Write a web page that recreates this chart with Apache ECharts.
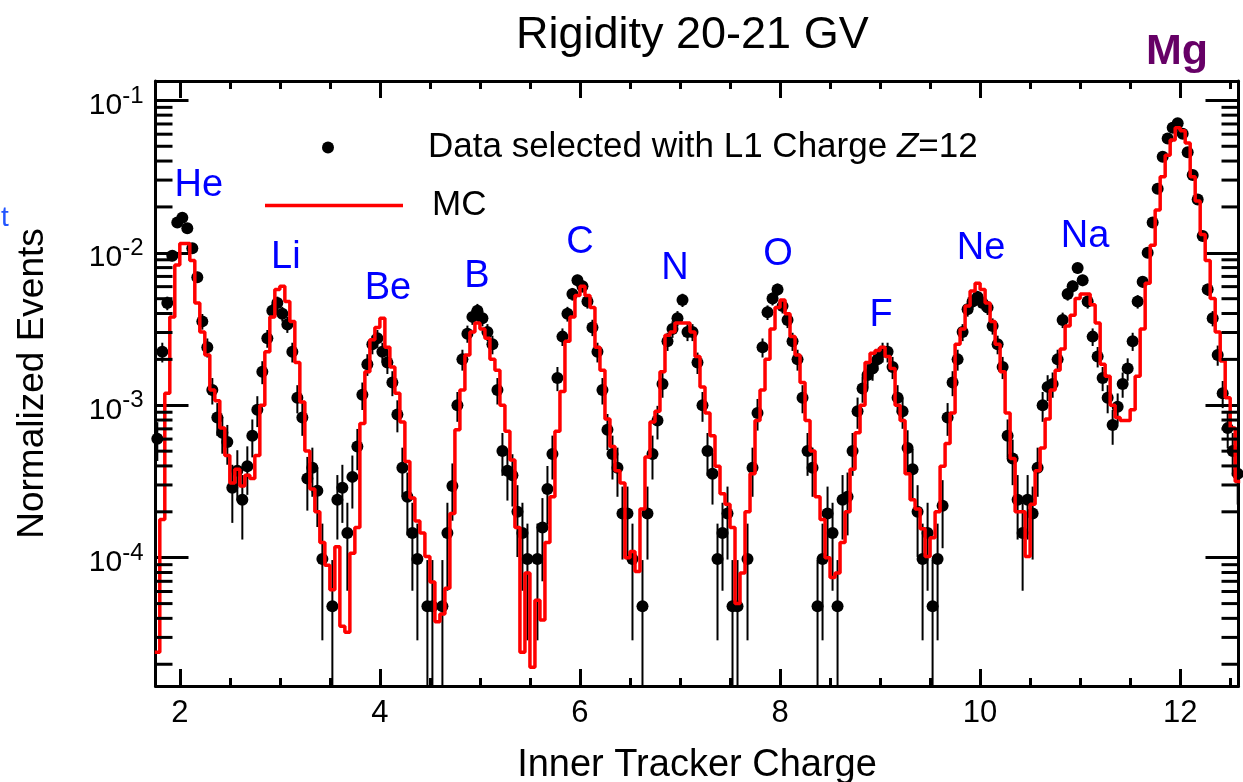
<!DOCTYPE html>
<html><head><meta charset="utf-8">
<script src="https://cdn.jsdelivr.net/npm/echarts@6/dist/echarts.min.js"></script>
<style>html,body{margin:0;padding:0;background:#fff}#c{width:1243px;height:782px}</style>
</head><body><div id="c"></div>
<script>
// ---- bin centres (Inner Tracker Charge) ----
const charge = [
1.775,1.825,1.875,1.925,1.975,
2.025,2.075,2.125,2.175,2.225,2.275,2.325,2.375,2.425,2.475,2.525,2.575,2.625,2.675,2.725,2.775,2.825,2.875,2.925,2.975,
3.025,3.075,3.125,3.175,3.225,3.275,3.325,3.375,3.425,3.475,3.525,3.575,3.625,3.675,3.725,3.775,3.825,3.875,3.925,3.975,
4.025,4.075,4.125,4.175,4.225,4.275,4.325,4.375,4.425,4.475,4.525,4.575,4.625,4.675,4.725,4.775,4.825,4.875,4.925,4.975,
5.025,5.075,5.125,5.175,5.225,5.275,5.325,5.375,5.425,5.475,5.525,5.575,5.625,5.675,5.725,5.775,5.825,5.875,5.925,5.975,
6.025,6.075,6.125,6.175,6.225,6.275,6.325,6.375,6.425,6.475,6.525,6.575,6.625,6.675,6.725,6.775,6.825,6.875,6.925,6.975,
7.025,7.075,7.125,7.175,7.225,7.275,7.325,7.375,7.425,7.475,7.525,7.575,7.625,7.675,7.725,7.775,7.825,7.875,7.925,7.975,
8.025,8.075,8.125,8.175,8.225,8.275,8.325,8.375,8.425,8.475,8.525,8.575,8.625,8.675,8.725,8.775,8.825,8.875,8.925,8.975,
9.025,9.075,9.125,9.175,9.225,9.275,9.325,9.375,9.425,9.475,9.525,9.575,9.625,9.675,9.725,9.775,9.825,9.875,9.925,9.975,
10.025,10.075,10.125,10.175,10.225,10.275,10.325,10.375,10.425,10.475,10.525,10.575,10.625,10.675,10.725,10.775,10.825,10.875,10.925,10.975,
11.025,11.075,11.125,11.175,11.225,11.275,11.325,11.375,11.425,11.475,11.525,11.575,11.625,11.675,11.725,11.775,11.825,11.875,11.925,11.975,
12.025,12.075,12.125,12.175,12.225,12.275,12.325,12.375,12.425,12.475,12.525,12.575
];

// ---- MC histogram (normalized events per bin) ----
const mcValues = [
2.40e-5,1.78e-4,1.20e-3,3.80e-3,8.32e-3,
1.15e-2,1.15e-2,8.91e-3,4.68e-3,3.02e-3, 2.14e-3,1.26e-3,1.07e-3,7.08e-4,4.68e-4,
3.09e-4,3.80e-4,2.95e-4,3.47e-4,3.31e-4, 4.68e-4,1.00e-3,2.24e-3,3.80e-3,5.75e-3,
6.03e-3,4.79e-3,3.55e-3,1.91e-3,1.05e-3, 5.01e-4,2.82e-4,2.00e-4,1.26e-4,8.91e-5,
6.17e-5,1.18e-4,3.55e-5,3.24e-5,1.07e-4, 1.58e-4,7.59e-4,1.66e-3,2.69e-3,3.24e-3,
3.72e-3,2.40e-3,1.78e-3,1.20e-3,7.76e-4, 4.27e-4,2.46e-4,1.74e-4,1.45e-4,1.02e-4,
6.92e-5,3.80e-5,4.27e-5,6.31e-5,1.95e-4, 6.92e-4,1.26e-3,2.14e-3,3.02e-3,3.47e-3,
3.16e-3,2.75e-3,2.00e-3,1.70e-3,1.00e-3, 6.76e-4,4.37e-4,1.58e-4,2.40e-5,7.94e-5,
1.91e-5,5.25e-5,3.90e-5,1.26e-4,2.51e-4, 6.76e-4,1.23e-3,2.63e-3,3.80e-3,5.25e-3,
6.03e-3,5.25e-3,4.37e-3,2.40e-3,1.70e-3, 8.13e-4,5.37e-4,3.72e-4,3.09e-4,1.00e-4,
1.10e-4,8.13e-5,2.09e-4,4.57e-4,7.76e-4, 9.12e-4,1.66e-3,2.88e-3,3.02e-3,3.47e-3,
3.47e-3,3.47e-3,3.02e-3,2.09e-3,1.32e-3, 8.91e-4,6.31e-4,3.98e-4,2.63e-4,2.24e-4,
1.58e-4,5.01e-5,7.94e-5,2.00e-4,3.55e-4, 7.94e-4,1.26e-3,2.00e-3,3.16e-3,4.37e-3,
4.90e-3,3.98e-3,2.82e-3,2.14e-3,1.41e-3, 7.94e-4,5.01e-4,2.51e-4,1.78e-4,1.00e-4,
7.41e-5,7.94e-5,1.26e-4,2.00e-4,3.80e-4, 6.61e-4,1.00e-3,1.91e-3,2.19e-3,2.29e-3,
2.40e-3,2.09e-3,1.74e-3,1.00e-3,7.94e-4, 3.55e-4,2.40e-4,2.09e-4,1.55e-4,1.02e-4,
1.35e-4,2.00e-4,3.98e-4,5.62e-4,8.91e-4, 2.51e-3,3.16e-3,4.47e-3,5.62e-3,6.31e-3,
5.75e-3,4.68e-3,3.55e-3,2.51e-3,1.66e-3, 8.91e-4,4.47e-4,2.00e-4,2.00e-4,1.02e-4,
2.24e-4,3.72e-4,5.25e-4,8.13e-4,1.26e-3, 1.70e-3,2.34e-3,3.31e-3,3.89e-3,5.01e-3,
5.37e-3,5.37e-3,4.57e-3,3.47e-3,1.86e-3, 1.55e-3,1.00e-3,8.32e-4,7.94e-4,7.94e-4,
9.33e-4,1.55e-3,3.16e-3,6.31e-3,1.12e-2, 1.91e-2,3.16e-2,4.37e-2,5.50e-2,6.61e-2,
6.31e-2,5.25e-2,3.16e-2,2.19e-2,1.32e-2, 8.91e-3,5.01e-3,3.02e-3,1.95e-3,1.12e-3,
7.08e-4,3.16e-4
];

// ---- Data selected with L1 charge Z=12 (null = empty bin) ----
const dataValues = [
6.03e-4,2.24e-3,4.68e-3,9.55e-3,1.58e-2,
1.70e-2,1.45e-2,1.07e-2,6.92e-3,3.55e-3, 2.40e-3,1.26e-3,8.32e-4,6.61e-4,5.75e-4,
2.88e-4,3.72e-4,2.40e-4,3.98e-4,6.31e-4, 9.33e-4,1.66e-3,2.75e-3,4.17e-3,4.68e-3,
3.98e-3,3.39e-3,2.24e-3,1.12e-3,8.32e-4, 3.31e-4,3.89e-4,2.75e-4,9.8e-5,null,
4.8e-5,2.40e-4,2.88e-4,1.45e-4,3.39e-4, 5.37e-4,1.17e-3,1.86e-3,2.51e-3,2.75e-3,
2.24e-3,1.91e-3,1.41e-3,8.71e-4,3.89e-4, 2.51e-4,1.45e-4,9.8e-5,null,4.8e-5,
4.8e-5,null,4.8e-5,1.45e-4,2.95e-4, 1.00e-3,2.00e-3,2.95e-3,3.80e-3,4.17e-3,
3.72e-3,3.02e-3,2.51e-3,1.26e-3,5.01e-4, 3.72e-4,3.47e-4,2.00e-4,1.45e-4,9.8e-5,
null,9.8e-5,1.58e-4,2.82e-4,4.79e-4, 1.51e-3,2.82e-3,3.98e-3,5.37e-3,6.61e-3,
6.03e-3,4.79e-3,3.24e-3,2.24e-3,1.26e-3, 6.92e-4,4.79e-4,3.89e-4,1.95e-4,1.95e-4,
9.8e-5,null,4.8e-5,1.95e-4,4.79e-4, 7.94e-4,1.38e-3,2.63e-3,3.16e-3,3.72e-3,
4.90e-3,3.02e-3,3.02e-3,1.91e-3,1.00e-3, 5.01e-4,3.55e-4,9.8e-5,1.45e-4,1.95e-4,
4.8e-5,4.8e-5,null,9.8e-5,3.89e-4, 8.91e-4,2.40e-3,4.07e-3,5.01e-3,5.75e-3,
4.47e-3,3.63e-3,2.63e-3,2.00e-3,1.12e-3, 5.01e-4,3.89e-4,4.8e-5,9.8e-5,1.95e-4,
1.45e-4,4.8e-5,2.40e-4,2.51e-4,5.01e-4, 9.12e-4,1.29e-3,1.58e-3,1.74e-3,2.00e-3,
2.24e-3,2.24e-3,1.78e-3,1.12e-3,9.12e-4, 5.25e-4,3.80e-4,2.00e-4,9.8e-5,1.45e-4,
4.8e-5,9.8e-5,2.19e-4,8.32e-4,1.41e-3, 2.00e-3,3.02e-3,4.27e-3,4.79e-3,5.13e-3,
4.68e-3,4.37e-3,3.31e-3,2.51e-3,1.78e-3, 6.31e-4,4.47e-4,2.40e-4,1.45e-4,2.40e-4,
1.95e-4,3.89e-4,1.00e-3,1.32e-3,1.38e-3, 2.00e-3,3.63e-3,5.37e-3,6.03e-3,7.94e-3,
6.61e-3,4.79e-3,2.82e-3,2.09e-3,1.51e-3, 1.12e-3,7.41e-4,9.77e-4,1.38e-3,1.74e-3,
2.63e-3,4.79e-3,6.46e-3,1.00e-2,1.58e-2, 2.63e-2,4.27e-2,5.62e-2,6.61e-2,7.08e-2,
6.03e-2,4.57e-2,3.24e-2,2.24e-2,1.29e-2, 5.75e-3,3.72e-3,2.14e-3,1.20e-3,7.08e-4,
5.01e-4,3.55e-4
];

// ---- peak annotations (element name, charge, level) ----
const peakNames  = ['He','Li','Be','B','C','N','O','F','Ne','Na'];
const peakCharge = [2.19, 3.06, 4.08, 4.97, 6.0, 6.95, 7.98, 9.01, 10.01, 11.05];
const peakLevel  = [0.0275, 0.0093, 0.0058, 0.0070, 0.0117, 0.0079, 0.0098, 0.0039, 0.0106, 0.0128];

// ---- axis ticks ----
const xTickValues = [2,4,6,8,10,12];
const xMinorTickValues = [2,2.5,3,3.5,4,4.5,5,5.5,6,6.5,7,7.5,8,8.5,9,9.5,10,10.5,11,11.5,12,12.5];
const yMinorTickValues = [
2e-5,3e-5,4e-5,5e-5,6e-5,7e-5,8e-5,9e-5,
2e-4,3e-4,4e-4,5e-4,6e-4,7e-4,8e-4,9e-4,
2e-3,3e-3,4e-3,5e-3,6e-3,7e-3,8e-3,9e-3,
2e-2,3e-2,4e-2,5e-2,6e-2,7e-2,8e-2,9e-2
];

const DATA_NAME = 'Data selected with L1 Charge Z=12';
const EVENT_WEIGHT = 4.9e-5;   // normalized weight of a single event (lowest populated level)
const X_MIN = 1.757, X_MAX = 12.583, Y_MIN = 1.44e-5, Y_MAX = 0.134;
const FONT = 'Liberation Sans, Arial, Helvetica, sans-serif';

// histogram as step line through bin edges
const stepData = [];
for (let i = 0; i < charge.length; i++) {
  const left = i === 0 ? charge[0] - (charge[1] - charge[0]) / 2 : (charge[i - 1] + charge[i]) / 2;
  stepData.push([left, mcValues[i]]);
}
const n = charge.length - 1;
stepData.push([charge[n] + (charge[n] - charge[n - 1]) / 2, mcValues[n]]);

const pts = [], errs = [];
charge.forEach((c, i) => {
  const v = dataValues[i];
  if (v == null) return;
  pts.push([c, v]);
  const s = Math.sqrt(v * EVENT_WEIGHT);
  errs.push([c, v - s, v + s]);
});

const chart = echarts.init(document.getElementById('c'), null, {renderer: 'canvas'});
const axisLineStyle = {color: '#000', width: 3};
const tickStyle = {color: '#000', width: 3};

chart.setOption({
  animation: false,
  backgroundColor: '#fff',
  textStyle: {fontFamily: FONT},
  title: {
    text: 'Rigidity 20-21 GV', left: 511, top: 8,
    textStyle: {fontSize: 45, fontWeight: 'normal', color: '#000', fontFamily: FONT}
  },
  graphic: [
    {type: 'text', left: 1146, top: 31, style: {text: 'Mg', fill: '#660066', font: 'bold 43px ' + FONT}},
    {type: 'text', left: 1, top: 204, style: {text: 't', fill: '#2255ff', font: '28px ' + FONT}}
  ],
  legend: [
    {
      data: [{name: DATA_NAME, icon: 'circle'}], left: 322, top: 130, padding: 0, selectedMode: false,
      itemWidth: 12, itemHeight: 12,
      formatter: () => '{p|}Data selected with L1 Charge {i|Z}=12',
      textStyle: {fontSize: 35, color: '#000', fontFamily: FONT,
        rich: {
          p: {width: 89, fontSize: 35},
          i: {fontSize: 35, fontStyle: 'italic', color: '#000', fontFamily: FONT}
        }}
    },
    {
      data: [{name: 'MC', icon: 'rect'}], left: 265, top: 188, padding: 0, selectedMode: false,
      itemWidth: 138, itemHeight: 3.5,
      textStyle: {fontSize: 35, color: '#000', fontFamily: FONT, padding: [0, 0, 0, 24]}
    }
  ],
  grid: {left: 155.5, right: 4.5, top: 81, bottom: 96, containLabel: false, outerBoundsMode: 'none'},
  xAxis: [
    {
      type: 'value', min: X_MIN, max: X_MAX, position: 'bottom',
      name: 'Inner Tracker Charge', nameLocation: 'middle', nameGap: 61,
      nameTextStyle: {fontSize: 38, color: '#000', fontFamily: FONT},
      axisLine: {show: true, onZero: false, lineStyle: axisLineStyle},
      axisTick: {show: true, inside: true, length: 17, customValues: xTickValues, lineStyle: tickStyle},
      axisLabel: {show: true, customValues: xTickValues, fontSize: 31, color: '#000', margin: 12, fontFamily: FONT},
      splitLine: {show: false}
    },
    {
      type: 'value', min: X_MIN, max: X_MAX, position: 'top',
      axisLine: {show: true, onZero: false, lineStyle: axisLineStyle},
      axisTick: {show: true, inside: true, length: 17, customValues: xTickValues, lineStyle: tickStyle},
      axisLabel: {show: false}, splitLine: {show: false}
    },
    {
      type: 'value', min: X_MIN, max: X_MAX, position: 'bottom',
      axisLine: {show: false, onZero: false},
      axisTick: {show: true, inside: true, length: 8, customValues: xMinorTickValues, lineStyle: tickStyle},
      axisLabel: {show: false}, splitLine: {show: false}
    },
    {
      type: 'value', min: X_MIN, max: X_MAX, position: 'top',
      axisLine: {show: false, onZero: false},
      axisTick: {show: true, inside: true, length: 8, customValues: xMinorTickValues, lineStyle: tickStyle},
      axisLabel: {show: false}, splitLine: {show: false}
    }
  ],
  yAxis: [
    {
      type: 'log', logBase: 10, min: Y_MIN, max: Y_MAX, position: 'left',
      name: 'Normalized Events', nameLocation: 'middle', nameGap: 104, nameRotate: 90,
      nameTextStyle: {fontSize: 37, color: '#000', fontFamily: FONT},
      axisLine: {show: true, onZero: false, lineStyle: axisLineStyle},
      axisTick: {show: true, inside: true, length: 33, lineStyle: tickStyle},
      axisLabel: {
        show: true, margin: 12, showMinLabel: false, showMaxLabel: false,
        formatter: v => '{b|10}{s|' + Math.round(Math.log10(v)) + '}',
        rich: {
          b: {fontSize: 30, color: '#000', fontFamily: FONT, padding: [10, 0, 0, 0]},
          s: {fontSize: 24, color: '#000', fontFamily: FONT, padding: [0, 0, 9, 0]}
        }
      },
      splitLine: {show: false}, minorTick: {show: false}
    },
    {
      type: 'log', logBase: 10, min: Y_MIN, max: Y_MAX, position: 'right',
      axisLine: {show: true, onZero: false, lineStyle: axisLineStyle},
      axisTick: {show: true, inside: true, length: 33, lineStyle: tickStyle},
      axisLabel: {show: false}, splitLine: {show: false}
    }
  ],
  series: [
    {
      type: 'custom', name: 'yMinorTicks', silent: true, xAxisIndex: 0, yAxisIndex: 0, z: 5,
      data: yMinorTickValues.map(v => [X_MIN, v]),
      renderItem: (params, api) => {
        const v = api.value(1);
        const pl = api.coord([X_MIN, v]);
        const pr = api.coord([X_MAX, v]);
        return {type: 'group', children: [
          {type: 'line', shape: {x1: pl[0], y1: pl[1], x2: pl[0] + 17, y2: pl[1]}, style: {stroke: '#000', lineWidth: 3}},
          {type: 'line', shape: {x1: pr[0], y1: pr[1], x2: pr[0] - 17, y2: pr[1]}, style: {stroke: '#000', lineWidth: 3}}
        ]};
      }
    },
    {
      type: 'custom', name: 'errors', silent: true, xAxisIndex: 0, yAxisIndex: 0, z: 2,
      encode: {x: 0, y: [1, 2]},
      data: errs,
      renderItem: (params, api) => {
        const x = api.value(0);
        const lo = Math.max(api.value(1), Y_MIN);
        const hi = Math.min(api.value(2), Y_MAX);
        const p1 = api.coord([x, hi]);
        const p2 = api.coord([x, lo]);
        return {type: 'line', shape: {x1: p1[0], y1: p1[1], x2: p2[0], y2: p2[1]}, style: {stroke: '#000', lineWidth: 2}};
      }
    },
    {
      type: 'scatter', name: DATA_NAME, xAxisIndex: 0, yAxisIndex: 0, z: 3,
      symbol: 'circle', symbolSize: 12, itemStyle: {color: '#000', opacity: 1},
      data: pts
    },
    {
      type: 'line', name: 'MC', xAxisIndex: 0, yAxisIndex: 0, z: 4,
      step: 'end', symbol: 'none', showSymbol: false, clip: true,
      lineStyle: {color: '#ff0000', width: 3.5}, itemStyle: {color: '#ff0000'},
      data: stepData
    },
    {
      type: 'custom', name: 'peaks', xAxisIndex: 0, yAxisIndex: 0, z: 6, silent: true,
      data: peakNames.map((nm, i) => [peakCharge[i], peakLevel[i]]),
      renderItem: (params, api) => {
        const p = api.coord([api.value(0), api.value(1)]);
        return {type: 'text', x: p[0], y: p[1], style: {
          text: peakNames[params.dataIndex], fill: '#0000ff', font: '38px ' + FONT,
          align: 'center', verticalAlign: 'middle', opacity: 1}};
      }
    }
  ]
});
</script>
</body></html>
